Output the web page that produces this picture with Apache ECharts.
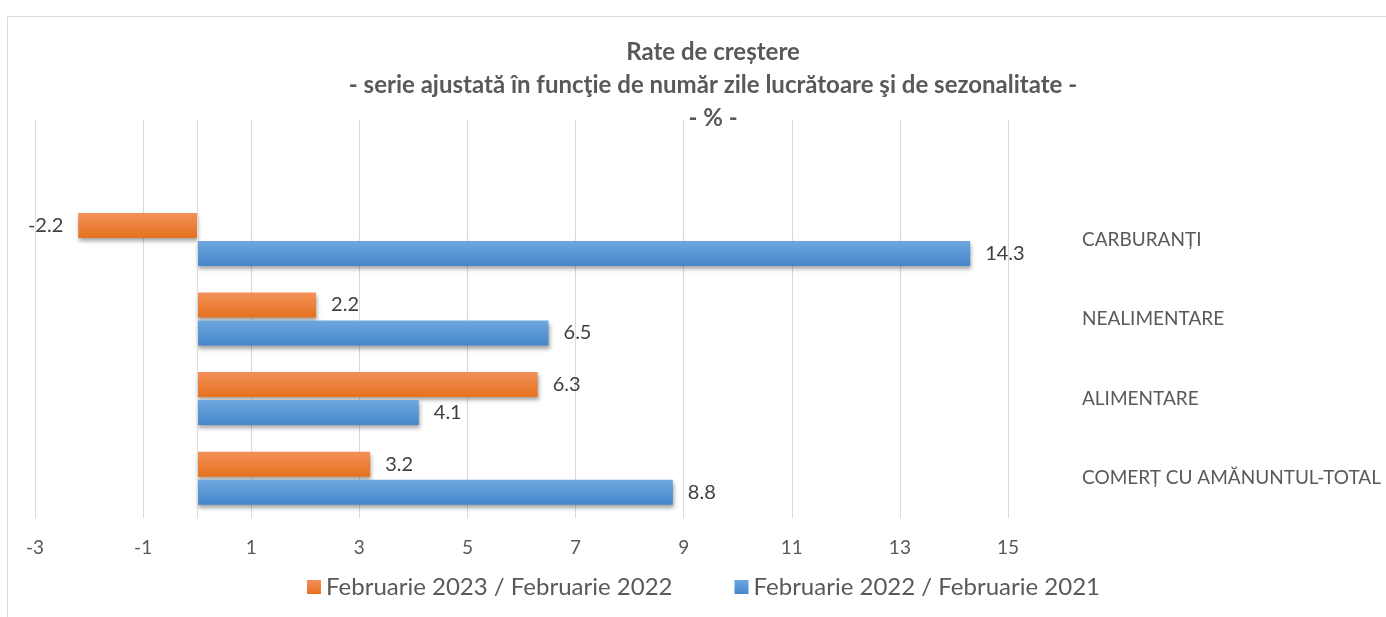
<!DOCTYPE html>
<html>
<head>
<meta charset="utf-8">
<script src="https://cdn.jsdelivr.net/npm/echarts@6/dist/echarts.min.js"></script>
<style>html,body{margin:0;padding:0;background:#fff;}#c{width:1386px;height:617px;}</style>
</head>
<body>
<div id="c"></div>
<script>
const categories = ['COMERȚ CU AMĂNUNTUL-TOTAL', 'ALIMENTARE', 'NEALIMENTARE', 'CARBURANȚI'];
const seriesNames = ['Februarie 2023 / Februarie 2022', 'Februarie 2022 / Februarie 2021'];
const values2023 = [3.2, 6.3, 2.2, -2.2];
const values2022 = [8.8, 4.1, 6.5, 14.3];
const xTicks = { min: -3, max: 15, interval: 2 };

const FONT = 'Lato, "Open Sans", sans-serif';
function grad(top, bottom) {
  return new echarts.graphic.LinearGradient(0, 0, 0, 1, [
    { offset: 0, color: top }, { offset: 1, color: bottom }
  ]);
}
function mk(vals) {
  return vals.map(v => ({ value: v, label: { position: v < 0 ? 'left' : 'right' } }));
}
const labelStyle = { show: true, fontFamily: FONT, fontSize: 20, color: '#404040', distance: 15 };
const shadow = { shadowBlur: 4, shadowOffsetX: 1, shadowOffsetY: 3, shadowColor: 'rgba(0,0,0,0.35)' };

const chart = echarts.init(document.getElementById('c'));
chart.setOption({
  animation: false,
  backgroundColor: '#fff',
  graphic: [{
    type: 'rect', left: 5, top: 14, z: -10,
    shape: { width: 1500, height: 700 },
    style: { fill: 'none', stroke: '#d9d9d9', lineWidth: 1 }
  }],
  title: {
    text: 'Rate de creștere\n- serie ajustată în funcţie de număr zile lucrătoare şi de sezonalitate -\n- % -',
    left: 708, top: 31, textAlign: 'center',
    textStyle: { fontFamily: FONT, fontSize: 24, fontWeight: 'bold', color: '#595959', lineHeight: 33 }
  },
  legend: {
    data: seriesNames,
    left: 302, top: 570, itemWidth: 14, itemHeight: 14, itemGap: 62,
    icon: 'rect',
    textStyle: { fontFamily: FONT, fontSize: 24, color: '#595959' }
  },
  grid: { left: 35, right: 378, top: 120, bottom: 99, containLabel: false },
  xAxis: {
    type: 'value', min: xTicks.min, max: xTicks.max, interval: xTicks.interval,
    axisLine: { show: false }, axisTick: { show: false },
    splitLine: { lineStyle: { color: '#d9d9d9', width: 1 } },
    axisLabel: { fontFamily: FONT, fontSize: 19, color: '#595959', margin: 20 }
  },
  yAxis: {
    type: 'category', data: categories, position: 'right', min: 0, max: categories.length,
    axisLine: { show: false }, axisTick: { show: false },
    axisLabel: { fontFamily: FONT, fontSize: 19, color: '#595959', margin: 74,
      formatter: v => v == null ? '' : v }
  },
  series: [
    {
      name: seriesNames[0], type: 'bar', data: mk(values2023),
      barWidth: 25, barGap: '12%',
      itemStyle: Object.assign({ color: grad('#f3915a', '#e5711e') }, shadow),
      label: labelStyle,
      markLine: { silent: true, symbol: 'none', label: { show: false },
        lineStyle: { color: '#d9d9d9', type: 'solid', width: 1 }, data: [{ xAxis: 0 }] }
    },
    {
      name: seriesNames[1], type: 'bar', data: mk(values2022),
      barWidth: 25, barGap: '12%',
      itemStyle: Object.assign({ color: grad('#6ea7de', '#4586cb') }, shadow),
      label: labelStyle
    }
  ]
});
</script>
</body>
</html>
